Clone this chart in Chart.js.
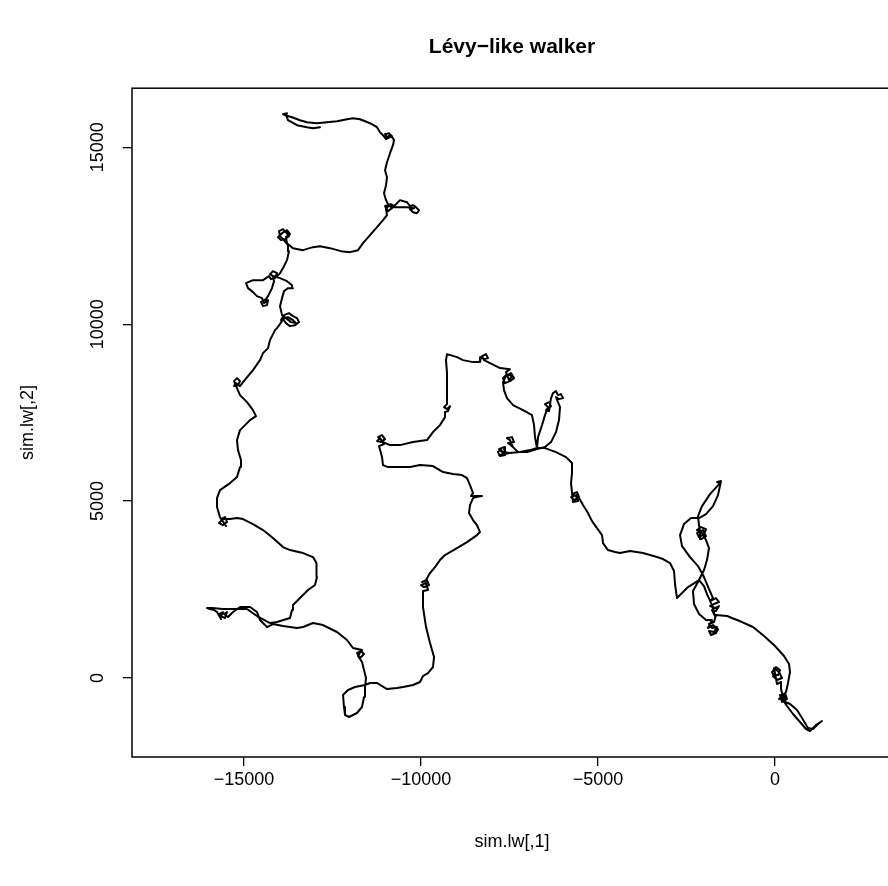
<!DOCTYPE html>
<html>
<head>
<meta charset="utf-8">
<title>Lévy-like walker</title>
<script src="https://cdn.jsdelivr.net/npm/chart.js@4.4.1/dist/chart.umd.min.js"></script>
<style>
  html, body { margin: 0; padding: 0; background: #fff; overflow: hidden; }
  canvas { display: block; }
</style>
</head>
<body>
<canvas id="chart" width="900" height="886"></canvas>
<script>
// walker path (sim.lw[,1], sim.lw[,2]), starting near the origin
const walkX = [
    0, -85, 28, 141, 85, -57, 57, 198, 113, -28, 57, 170,
    170, 226, 113, 283, 339, 198, 141, 311, 226,
    424, 622, 763, 932, 1074, 1215, 1328, 1158, 989, 876,
    706, 509, 339, 198,
    311, 367, 424, 396, 254, 0, -311, -622, -932, -1356, -1667,
    -1723, -1865, -1780, -1639, -1723, -1865, -1808, -1667, -1610, -1752, -1893, -1780,
    -1949, -2147, -2288, -2317, -2147,
    -2006, -1921, -1865, -1949, -2062, -2204, -2091, -1949, -2006, -2147, -2204, -2034, -1949, -2091, -2119,
    -2147, -2175, -2062, -1836, -1554, -1639, -1526,
    -1610, -1752, -1949, -2147,
    -2373, -2571, -2684, -2627, -2401, -2175, -2006, -1865, -1752,
    -1836, -1667, -1582, -1723, -1836, -1695, -1582, -1667, -1780, -1695,
    -1780, -1921, -2006, -2147, -2458, -2769,
    -2825, -2853, -2966, -3164, -3334, -3729, -4096, -4379,
    -4520, -4718, -4859, -4887, -5029, -5170, -5283, -5424, -5537,
    -5735, -5594, -5537, -5678, -5763, -5622, -5565, -5707,
    -5763, -5735, -5735, -5904, -6187, -6498, -6724,
    -6695, -6582, -6498, -6413, -6498, -6385, -6328, -6469, -6385, -6328, -6272, -6187, -6130, -6046, -5989, -6102, -6187, -6074, -6102, -6187, -6328, -6498, -6724,
    -7006, -7260, -7402, -7486, -7571, -7430, -7373, -7543, -7402, -7260, -7486, -7712, -7797, -7656, -7628, -7769, -7825, -7740, -7684, -7797, -7486, -7204, -6921, -6724,
    -6780, -6808, -6865, -7119, -7402, -7571, -7656, -7684, -7599, -7458, -7373, -7486, -7628, -7684, -7571, -7430, -7515, -7599, -7486,
    -7769, -8051, -8221, -8277, -8165, -8108, -8221, -8306, -8334, -8532, -8814, -8984, -9266,
    -9294, -9266, -9266, -9266, -9266, -9351, -9266, -9181, -9238, -9323, -9323, -9464, -9662, -9831, -10227, -10594, -10876, -11074,
    -11215, -11102, -11017, -11131, -11244, -11159, -11046, -11187, -11102, -11074, -10933, -10594, -10311, -10029, -9662, -9379, -9097, -8842, -8701, -8616, -8532,
    -8588, -8277, -8447, -8532, -8616, -8645, -8532, -8419, -8334, -8419, -8701, -8984, -9323, -9464, -9605, -9746, -9859,
    -9972, -9831, -9775, -9916, -10001, -9859, -9803, -9944, -9944, -9944, -9859, -9746, -9633, -9662, -9803, -9944, -10029, -10227, -10509, -10679, -10961, -11244, -11441, -11583,
    -11865, -12063, -12204, -12176, -12148, -12035, -11809, -11667, -11611, -11583, -11554, -11611, -11667,
    -11780, -11696, -11611, -11724, -11809, -11667, -11922, -12091, -12374, -12769, -13052, -13334, -13504, -13899, -14182,
    -14351, -14549, -14634, -14831, -15114, -15312, -15453, -15566, -15481, -15538, -15650, -15594, -15707, -15650, -15764, -15848, -15961, -16046, -15905, -15594, -15255, -14916, -14634, -14266,
    -14069, -13701, -13645, -13617, -13419, -13193, -12995, -12939, -12939, -12967, -13052, -13334, -13701, -13899, -14182, -14464, -14747, -15029, -15199, -15396,
    -15650, -15538, -15481, -15594, -15707, -15622, -15509, -15679, -15764, -15764, -15679, -15396, -15199, -15114, -15086, -15170, -15199, -15114, -14831, -14662, -14747, -14916, -15114, -15199,
    -15283, -15199, -15114, -15170, -15283, -15227, -15114, -15029, -14747, -14549, -14464, -14323, -14266, -14125, -14069, -13927,
    -13956, -13871, -13730, -13617, -13504, -13447, -13560, -13701, -13815, -13899, -13758, -13617, -13532, -13673, -13815, -13927, -13984, -13927, -13871, -13758, -13617, -13645, -13786, -13984, -14182,
    -14266, -14182, -14069, -14125, -14238, -14295, -14464, -14747, -14944, -14887, -14747, -14634, -14492, -14436, -14323, -14351, -14464, -14521, -14379, -14323, -14210, -14153, -14182,
    -14069, -13984, -13871, -13786, -13730, -13758, -13871, -13984, -14012, -13899, -13815, -13730, -13843, -13956, -14040, -13927, -13786, -13701, -13815, -13786, -13617, -13334, -13052, -12854, -12571, -12261, -12006, -11780, -11639, -11441, -11244, -11074, -10961,
    -10989, -10905, -10820, -10933, -11017, -10848, -10763, -10594, -10396, -10311, -10227, -10142, -10057, -10114, -10227, -10311, -10198, -10396, -10594, -10792, -10933,
    -10989, -11046, -10989, -10961, -11017, -10961, -10876, -10792, -10763,
    -10792, -10876, -10961, -11017, -10905, -10820, -10989, -11074, -11159, -11244, -11441, -11724, -11922, -12091, -12374, -12656, -12939, -13221, -13419, -13645, -13843,
    -13899, -13786, -13815, -13758, -13504, -13221, -13052, -12854
];
const walkY = [
    0, 170, 311, 226, 85, 57, -57, 0, 170, 283, -170, -113,
    -311, -537, -593, -424, -593, -678, -480, -509, -650,
    -735, -904, -1130, -1413, -1441, -1300, -1215, -1328, -1497, -1441,
    -1243, -1017, -791, -593,
    -396, -141, 170, 396, 622, 904, 1187, 1441, 1582, 1752, 1780,
    1582, 1526, 1413, 1441, 1300, 1328, 1215, 1271, 1384, 1497, 1413, 1638,
    1639, 1808, 2091, 2458, 2769,
    3051, 3334, 3673, 3899, 4096, 4181, 4266, 4209, 4068, 3983, 4096, 4181, 4011, 3927, 4153,
    4322, 4577, 4859, 5198, 5509, 5537, 5565,
    5170, 4859, 4633, 4520,
    4520, 4351, 4040, 3729, 3418, 3164, 2853, 2514, 2260,
    2175, 2260, 2147, 2091, 2034, 1978, 2034, 1893, 1921, 1752,
    2062, 2373, 2599, 2769, 2571, 2260,
    2656, 3023, 3249, 3362, 3418, 3531, 3588, 3531,
    3560, 3616, 3814, 4040, 4238, 4435, 4661, 4887, 5085,
    5198, 5255, 5113, 5029, 5113, 5170, 5000, 4972,
    5509, 5791, 6074, 6243, 6385, 6498, 6498,
    6808, 7147, 7430, 7656, 7741, 7797, 7684, 7571, 7543, 7910, 8051, 8108, 7995, 8023, 7910, 7882, 7938, 7656, 7289, 6950, 6667, 6526, 6469,
    6385, 6385, 6526, 6724, 6780, 6808, 6667, 6639, 6526, 6385, 6356, 6385, 6469, 6526, 6300, 6272, 6385, 6469, 6328, 6300, 6356, 6385, 6441, 6498,
    6808, 7147, 7430, 7571, 7712, 7910, 8136, 8362, 8532, 8616, 8475, 8391, 8334, 8475, 8588, 8532, 8419, 8645, 8729,
    8758, 8899, 8984, 9097, 9153, 9040, 9012, 9068, 8927, 8927, 8984, 9068, 9153,
    8984, 8616, 8221, 7938, 7741, 7656, 7599, 7684, 7543, 7515, 7373, 7147, 6950, 6724, 6667, 6582, 6582, 6667,
    6808, 6865, 6752, 6667, 6695, 6780, 6611, 6554, 6243, 6017, 5961, 5961, 5961, 6017, 5989, 5820, 5763, 5735, 5650, 5452, 5226,
    5142, 5142, 5113, 5085, 4887, 4661, 4464, 4322, 4125, 4040, 3842, 3673, 3475, 3334, 3136, 2966, 2769,
    2712, 2769, 2627, 2571, 2627, 2684, 2486, 2458, 2401, 2006, 1441, 989, 593, 311, 141, 57, -113, -198, -254, -283, -311, -141, -141, -198,
    -254, -339, -480, -819, -1045, -1102, -989, -819, -537, -254, 0, 226, 452,
    622, 763, 678, 565, 706, 791, 848, 1074, 1300, 1497, 1554, 1441, 1413, 1469, 1526,
    1441, 1639, 1865, 2006, 2006, 1865, 1723, 1808, 1865, 1695, 1752, 1865, 1808, 1667, 1865, 1921, 1949, 1978, 1978, 1949, 1949, 1949, 1752, 1554,
    1582, 1695, 1921, 2062, 2260, 2486, 2627, 2853, 3136, 3249, 3418, 3531, 3616, 3701, 3955, 4181, 4351, 4492, 4520, 4492,
    4492, 4548, 4407, 4322, 4379, 4464, 4294, 4548, 4831, 5085, 5311, 5509, 5678, 5961, 6159, 6441, 6724, 7006, 7289, 7402, 7571, 7797, 7995, 8193,
    8390, 8475, 8390, 8277, 8249, 8334, 8249, 8362, 8701, 8984, 9181, 9323, 9549, 9831, 9888, 10085,
    10114, 10255, 10311, 10227, 10170, 10057, 9972, 9944, 10029, 10142, 10198, 10114, 10029, 10057, 10170, 10255, 10509, 10735, 10933, 11018, 11018, 11102, 11215, 11300, 11357,
    11413, 11498, 11441, 11300, 11272, 11357, 11244, 11244, 11159, 11018, 10905, 10792, 10735, 10594, 10679, 10537, 10509, 10622, 10707, 10792, 11018, 11215, 11357,
    11357, 11441, 11639, 11809, 12063, 12232, 12374, 12487, 12628, 12684, 12600, 12487, 12402, 12374, 12458, 12571, 12656, 12543, 12458, 12289, 12148, 12091, 12176, 12204, 12148, 12063, 12035, 12091, 12289, 12515, 12741, 12939, 13080,
    13249, 13362, 13278, 13193, 13334, 13391, 13334, 13504, 13447, 13334, 13362, 13306, 13221, 13136, 13164, 13249, 13278, 13306, 13306, 13306, 13391,
    13504, 13701, 13927, 14153, 14351, 14577, 14831, 15057, 15199,
    15255, 15340, 15283, 15368, 15396, 15312, 15227, 15340, 15425, 15566, 15679, 15792, 15820, 15792, 15735, 15707, 15679, 15707, 15764, 15848, 15905,
    15933, 15961, 15905, 15764, 15622, 15566, 15537, 15566
];

const xTicks = [-15000, -10000, -5000, 0];
const yTicks = [0, 5000, 10000, 15000];
const xRange = [-18165, 3305];
const yRange = [-2232, 16668];

const fontFamily = '"Liberation Sans", Arial, Helvetica, sans-serif';
const minusLabel = v => String(v).replace('-', '\u2212');

// R draws a full box round the plot region
const plotBox = {
    id: 'plotBox',
    afterDraw(chart) {
        const {ctx, chartArea} = chart;
        ctx.save();
        ctx.strokeStyle = '#000';
        ctx.lineWidth = 1.5;
        ctx.strokeRect(chartArea.left, chartArea.top, chartArea.right - chartArea.left, chartArea.bottom - chartArea.top);
        ctx.restore();
    }
};

const n = Math.min(walkX.length, walkY.length);
const points = walkX.slice(0, n).map((x, i) => ({x: x, y: walkY[i]}));

const chart = new Chart(document.getElementById('chart').getContext('2d'), {
    type: 'scatter',
    data: {
        datasets: [{
            data: points,
            showLine: true,
            borderColor: '#000',
            borderWidth: 2,
            borderJoinStyle: 'round',
            borderCapStyle: 'round',
            pointRadius: 0,
            tension: 0
        }]
    },
    options: {
        responsive: false,
        animation: false,
        devicePixelRatio: 1,
        events: [],
        layout: {padding: {left: 0, right: 8, top: 0, bottom: 0}},
        plugins: {
            legend: {display: false},
            tooltip: {enabled: false},
            title: {
                display: true,
                text: 'Lévy\u2212like walker',
                fullSize: false,
                color: '#000',
                font: {family: fontFamily, size: 21, weight: 'bold'},
                padding: {top: 35, bottom: 28}
            }
        },
        scales: {
            x: {
                type: 'linear',
                position: 'bottom',
                min: xRange[0],
                max: xRange[1],
                afterBuildTicks: s => { s.ticks = xTicks.map(v => ({value: v})); },
                afterFit: s => { s.height = 129; },
                ticks: {
                    callback: minusLabel,
                    color: '#000',
                    font: {family: fontFamily, size: 18},
                    padding: 3,
                    maxRotation: 0,
                    autoSkip: false
                },
                grid: {drawOnChartArea: false, drawTicks: true, tickLength: 9, color: '#000', lineWidth: 1.3},
                border: {display: false},
                title: {
                    display: true,
                    text: 'sim.lw[,1]',
                    color: '#000',
                    font: {family: fontFamily, size: 18},
                    padding: {top: 0, bottom: 33}
                }
            },
            y: {
                type: 'linear',
                position: 'left',
                min: yRange[0],
                max: yRange[1],
                afterBuildTicks: s => { s.ticks = yTicks.map(v => ({value: v})); },
                afterFit: s => { s.width = 132; },
                ticks: {
                    callback: minusLabel,
                    color: '#000',
                    font: {family: fontFamily, size: 18},
                    padding: 0,
                    minRotation: 90,
                    maxRotation: 90,
                    crossAlign: 'center',
                    autoSkip: false
                },
                grid: {drawOnChartArea: false, drawTicks: true, tickLength: 9, color: '#000', lineWidth: 1.3},
                border: {display: false},
                title: {
                    display: true,
                    text: 'sim.lw[,2]',
                    color: '#000',
                    font: {family: fontFamily, size: 18},
                    padding: {top: 17, bottom: 0}
                }
            }
        }
    },
    plugins: [plotBox]
});
</script>
</body>
</html>
